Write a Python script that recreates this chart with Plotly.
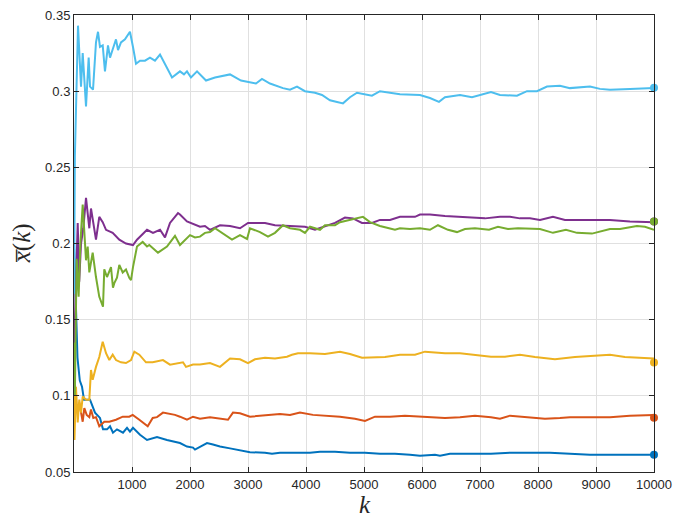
import plotly.graph_objects as go

# ---- data ----
blue_k = [1, 30, 60, 100, 138, 172, 276, 362, 448, 500, 569, 621, 672, 741, 845, 914, 965, 1017, 1138, 1259, 1431, 1603, 1707, 1827, 1948, 2052, 2086, 2172, 2293, 2396, 2517, 2690, 2862, 3034, 3293, 3414, 3551, 3810, 4069, 4241, 4500, 4758, 5017, 5275, 5534, 5793, 5965, 6224, 6310, 6482, 6827, 7189, 7517, 7861, 8206, 8551, 8896, 9241, 9585, 10000]
blue_v = [0.200, 0.160, 0.125, 0.110, 0.106, 0.0975, 0.0975, 0.089, 0.0855, 0.078, 0.078, 0.080, 0.0758, 0.078, 0.0758, 0.079, 0.0765, 0.079, 0.0745, 0.071, 0.073, 0.071, 0.070, 0.069, 0.0667, 0.066, 0.0647, 0.0667, 0.069, 0.068, 0.0667, 0.0655, 0.064, 0.063, 0.0627, 0.062, 0.0627, 0.0627, 0.0627, 0.0633, 0.0633, 0.0627, 0.0627, 0.062, 0.062, 0.0613, 0.0607, 0.0613, 0.0607, 0.062, 0.062, 0.062, 0.0627, 0.0627, 0.0627, 0.062, 0.0613, 0.0613, 0.0613, 0.0613]

orange_k = [1, 20, 50, 91, 150, 178, 219, 264, 293, 333, 379, 436, 522, 609, 724, 840, 953, 1012, 1126, 1241, 1271, 1357, 1431, 1534, 1741, 1827, 1948, 2052, 2172, 2345, 2517, 2655, 2741, 2862, 3034, 3207, 3379, 3551, 3724, 3896, 4120, 4327, 4586, 4844, 5017, 5189, 5448, 5706, 5965, 6137, 6396, 6655, 6913, 7189, 7344, 7517, 7775, 8120, 8378, 8551, 8896, 9241, 9585, 9930, 10000]
orange_v = [0.125, 0.105, 0.090, 0.0955, 0.083, 0.092, 0.0875, 0.086, 0.091, 0.0855, 0.086, 0.080, 0.083, 0.083, 0.0843, 0.0863, 0.0863, 0.0875, 0.0843, 0.081, 0.080, 0.0855, 0.086, 0.089, 0.0875, 0.0863, 0.0843, 0.0863, 0.085, 0.086, 0.085, 0.0843, 0.089, 0.0885, 0.0863, 0.087, 0.0875, 0.088, 0.0875, 0.089, 0.0875, 0.087, 0.0863, 0.085, 0.0835, 0.0863, 0.0863, 0.087, 0.0863, 0.086, 0.0855, 0.086, 0.087, 0.086, 0.085, 0.087, 0.086, 0.085, 0.0855, 0.086, 0.086, 0.086, 0.087, 0.0875, 0.0875]

yellow_k = [1, 8, 34, 64, 91, 121, 150, 207, 264, 293, 322, 379, 436, 495, 552, 609, 667, 724, 810, 896, 983, 1040, 1126, 1241, 1357, 1534, 1655, 1879, 1931, 2052, 2172, 2345, 2517, 2690, 2862, 3000, 3120, 3293, 3465, 3672, 3758, 3862, 4069, 4327, 4586, 4758, 4965, 5189, 5362, 5620, 5879, 6051, 6310, 6396, 6655, 6913, 7189, 7430, 7689, 7948, 8206, 8292, 8637, 8982, 9241, 9499, 9758, 10000]
yellow_v = [0.105, 0.071, 0.106, 0.0825, 0.0975, 0.089, 0.0995, 0.0975, 0.0975, 0.117, 0.1105, 0.119, 0.1255, 0.1355, 0.128, 0.1235, 0.127, 0.1235, 0.122, 0.1215, 0.1235, 0.129, 0.127, 0.122, 0.122, 0.1235, 0.1205, 0.122, 0.119, 0.1205, 0.1205, 0.1215, 0.119, 0.1245, 0.124, 0.1215, 0.124, 0.125, 0.1245, 0.1257, 0.127, 0.128, 0.128, 0.1275, 0.129, 0.1275, 0.125, 0.1255, 0.1255, 0.127, 0.127, 0.129, 0.128, 0.128, 0.128, 0.127, 0.1257, 0.1257, 0.127, 0.1255, 0.1245, 0.124, 0.1255, 0.1265, 0.127, 0.1255, 0.125, 0.1245]

purple_k = [1, 30, 64, 90, 121, 160, 207, 264, 293, 379, 436, 495, 552, 667, 781, 896, 1017, 1086, 1259, 1362, 1483, 1569, 1655, 1793, 1827, 1948, 2121, 2172, 2258, 2345, 2517, 2690, 2862, 3000, 3138, 3293, 3465, 3724, 3982, 4155, 4327, 4500, 4672, 4810, 4965, 5137, 5275, 5448, 5620, 5879, 5965, 6137, 6396, 6655, 6913, 7086, 7344, 7517, 7689, 7861, 8034, 8258, 8465, 8896, 9241, 9585, 10000]
purple_v = [0.130, 0.170, 0.2135, 0.175, 0.200, 0.210, 0.230, 0.210, 0.223, 0.2025, 0.2175, 0.214, 0.209, 0.207, 0.2025, 0.200, 0.199, 0.2025, 0.209, 0.207, 0.209, 0.204, 0.2135, 0.220, 0.219, 0.2145, 0.212, 0.211, 0.2115, 0.209, 0.212, 0.2115, 0.210, 0.2135, 0.2135, 0.2135, 0.212, 0.2115, 0.211, 0.209, 0.211, 0.2135, 0.217, 0.2165, 0.2135, 0.2135, 0.2155, 0.2155, 0.2175, 0.2175, 0.219, 0.219, 0.218, 0.2175, 0.217, 0.2165, 0.2175, 0.2175, 0.2165, 0.2165, 0.2155, 0.2175, 0.2155, 0.2155, 0.2155, 0.2145, 0.214]

green_k = [1, 15, 45, 80, 110, 150, 207, 236, 264, 322, 379, 436, 500, 522, 569, 638, 672, 695, 741, 781, 840, 896, 953, 983, 1017, 1069, 1086, 1184, 1259, 1298, 1379, 1448, 1603, 1741, 1827, 1914, 2000, 2086, 2172, 2258, 2345, 2431, 2552, 2724, 2862, 2983, 3034, 3207, 3345, 3465, 3603, 3724, 3896, 3982, 4069, 4241, 4327, 4500, 4586, 4758, 4879, 4982, 5103, 5275, 5534, 5620, 5793, 5965, 6137, 6275, 6448, 6603, 6741, 6913, 7155, 7310, 7482, 7655, 8034, 8258, 8482, 8672, 8930, 9241, 9413, 9706, 9844, 10000]
green_v = [0.135, 0.100, 0.190, 0.165, 0.200, 0.2255, 0.189, 0.198, 0.181, 0.194, 0.178, 0.165, 0.1585, 0.183, 0.178, 0.1845, 0.171, 0.174, 0.1775, 0.186, 0.181, 0.183, 0.1775, 0.176, 0.1845, 0.194, 0.198, 0.201, 0.198, 0.199, 0.196, 0.194, 0.198, 0.205, 0.199, 0.2025, 0.2055, 0.204, 0.2045, 0.207, 0.2075, 0.210, 0.207, 0.2025, 0.2055, 0.203, 0.210, 0.2075, 0.2045, 0.207, 0.212, 0.210, 0.209, 0.207, 0.211, 0.209, 0.212, 0.212, 0.214, 0.2155, 0.217, 0.2175, 0.214, 0.2115, 0.209, 0.210, 0.2095, 0.210, 0.209, 0.212, 0.209, 0.2075, 0.2095, 0.210, 0.209, 0.211, 0.2095, 0.210, 0.2095, 0.207, 0.209, 0.207, 0.2065, 0.2095, 0.2095, 0.2115, 0.211, 0.209]

cyan_k = [1, 15, 69, 121, 150, 185, 207, 253, 276, 328, 379, 414, 448, 495, 534, 586, 621, 672, 724, 759, 810, 879, 965, 1017, 1069, 1138, 1224, 1310, 1396, 1483, 1600, 1690, 1827, 1896, 1948, 2017, 2121, 2276, 2431, 2690, 2879, 3000, 3138, 3241, 3379, 3603, 3724, 3845, 3982, 4155, 4276, 4413, 4638, 4758, 4879, 5137, 5275, 5620, 5965, 6137, 6293, 6396, 6655, 6862, 7189, 7344, 7637, 7810, 7982, 8155, 8378, 8551, 8896, 9068, 9241, 9585, 9930, 10000]
cyan_v = [0.167, 0.257, 0.343, 0.303, 0.325, 0.301, 0.290, 0.322, 0.303, 0.301, 0.332, 0.339, 0.329, 0.330, 0.313, 0.330, 0.322, 0.328, 0.334, 0.327, 0.332, 0.334, 0.339, 0.329, 0.318, 0.320, 0.320, 0.322, 0.320, 0.324, 0.316, 0.309, 0.313, 0.311, 0.313, 0.309, 0.313, 0.307, 0.309, 0.311, 0.307, 0.306, 0.305, 0.308, 0.305, 0.302, 0.301, 0.303, 0.300, 0.299, 0.2975, 0.294, 0.292, 0.296, 0.299, 0.297, 0.300, 0.298, 0.2975, 0.2955, 0.293, 0.296, 0.2975, 0.296, 0.2995, 0.2975, 0.297, 0.300, 0.300, 0.303, 0.3035, 0.302, 0.303, 0.3015, 0.301, 0.3015, 0.302, 0.302]

# end-point markers (at k = 10000)
marker_k = 10000
marker_v = {"blue": 0.0613, "orange": 0.0856, "yellow": 0.1219,
            "purple": 0.2144, "green": 0.2144, "cyan": 0.3023}

x_ticks = [1000, 2000, 3000, 4000, 5000, 6000, 7000, 8000, 9000, 10000]
x_tick_text = ["1000", "2000", "3000", "4000", "5000", "6000", "7000", "8000", "9000", "10000"]
y_ticks = [0.05, 0.1, 0.15, 0.2, 0.25, 0.3, 0.35]
y_tick_text = ["0.05", "0.1", "0.15", "0.2", "0.25", "0.3", "0.35"]

colors = {"blue": "#0072BD", "orange": "#D95319", "yellow": "#EDB120",
          "purple": "#7E2F8E", "green": "#77AC30", "cyan": "#4DBEEE"}

series = [("blue", blue_k, blue_v), ("orange", orange_k, orange_v),
          ("yellow", yellow_k, yellow_v), ("purple", purple_k, purple_v),
          ("green", green_k, green_v), ("cyan", cyan_k, cyan_v)]

fig = go.Figure()
for name, ks, vs in series:
    fig.add_trace(go.Scatter(x=ks, y=vs, mode="lines",
                             line=dict(color=colors[name], width=2),
                             showlegend=False, hoverinfo="skip"))
    fig.add_trace(go.Scatter(x=[marker_k], y=[marker_v[name]], mode="markers",
                             marker=dict(color=colors[name], size=8),
                             showlegend=False, cliponaxis=False, hoverinfo="skip"))

axis_common = dict(showline=True, linecolor="#262626", linewidth=1, mirror="ticks",
                   ticks="inside", ticklen=5, tickcolor="#262626", tickwidth=1,
                   showgrid=True, gridcolor="#e0e0e0", gridwidth=1, zeroline=False,
                   automargin=False,
                   tickfont=dict(family="Liberation Sans, Arial, sans-serif", size=13, color="#262626"))

fig.update_layout(
    width=673, height=519,
    margin=dict(l=74, r=19, t=15, b=47),
    paper_bgcolor="white", plot_bgcolor="white",
    xaxis=dict(range=[0, 10000], tickvals=x_ticks, ticktext=x_tick_text, **axis_common),
    yaxis=dict(range=[0.05, 0.35], tickvals=y_ticks, ticktext=y_tick_text, **axis_common),
    annotations=[
        dict(text="<i>k</i>", xref="paper", yref="paper", x=0.502, y=-0.072,
             xanchor="center", yanchor="middle", showarrow=False,
             font=dict(family="Liberation Serif, DejaVu Serif, serif", size=25, color="#262626")),
        dict(text="<i>x\u0305</i>(<i>k</i>)", xref="paper", yref="paper", x=-0.09, y=0.5,
             xanchor="center", yanchor="middle", showarrow=False, textangle=-90,
             font=dict(family="Liberation Serif, DejaVu Serif, serif", size=25, color="#262626")),
    ],
)

fig.write_html("out.html")
